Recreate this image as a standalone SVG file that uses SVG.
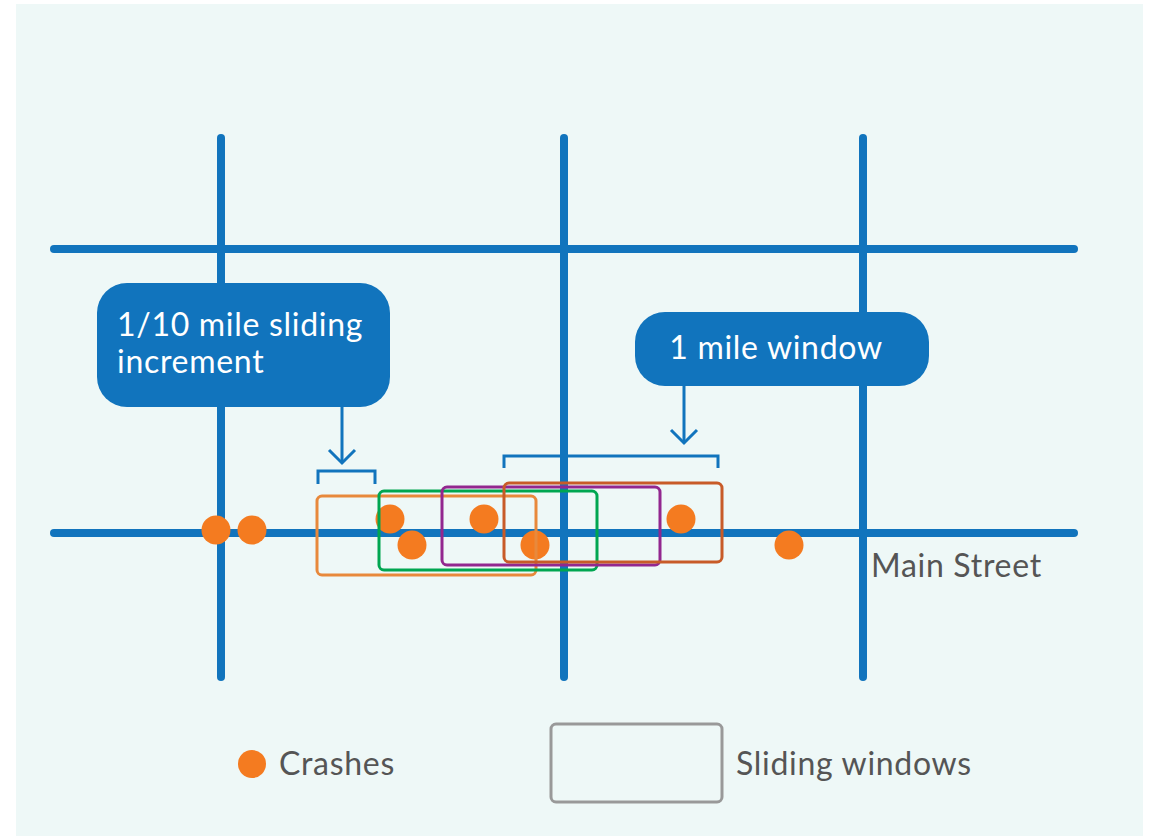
<svg xmlns="http://www.w3.org/2000/svg" width="1153" height="836" viewBox="0 0 1153 836">
<style>
.road{stroke:#1174bd;stroke-width:8;stroke-linecap:round;fill:none}
.conn{stroke:#1174bd;stroke-width:3;fill:none}
.box{fill:#1174bd}
.lbl{font-family:Lato,"Noto Sans",sans-serif;font-size:32px;letter-spacing:0.7px;fill:#ffffff}
.txt{font-family:Lato,"Noto Sans",sans-serif;font-size:32px;letter-spacing:0.7px;fill:#555555}
.crash{fill:#f47b20}
.win{fill:none;stroke-width:3}
</style>
<rect x="0" y="0" width="1153" height="836" fill="#ffffff"/>
<rect x="16" y="4" width="1127" height="832" fill="#eef8f7"/>
<g id="roads">
<line class="road" x1="221" y1="138" x2="221" y2="677"/>
<line class="road" x1="564" y1="138" x2="564" y2="677"/>
<line class="road" x1="863" y1="138" x2="863" y2="677"/>
<line class="road" x1="54" y1="249" x2="1074" y2="249"/>
<line class="road" x1="54" y1="533" x2="1074" y2="533"/>
</g>
<g id="crashes">
<circle class="crash" cx="216" cy="530" r="14.5"/>
<circle class="crash" cx="252" cy="530" r="14.5"/>
<circle class="crash" cx="390" cy="519" r="14.5"/>
<circle class="crash" cx="412" cy="545" r="14.5"/>
<circle class="crash" cx="484" cy="519" r="14.5"/>
<circle class="crash" cx="535" cy="545" r="14.5"/>
<circle class="crash" cx="681" cy="519" r="14.5"/>
<circle class="crash" cx="789" cy="545" r="14.5"/>
</g>
<g id="windows">
<rect class="win" x="317" y="496" width="219" height="79" rx="5" stroke="#e8893c"/>
<rect class="win" x="379" y="491" width="218" height="79" rx="5" stroke="#00a651"/>
<rect class="win" x="442" y="487" width="218" height="78" rx="5" stroke="#92278f"/>
<rect class="win" x="504" y="483" width="218" height="79" rx="5" stroke="#c85b28"/>
</g>
<g id="callout-increment">
<rect class="box" x="97" y="283" width="293" height="124" rx="30"/>
<text class="lbl" x="117" y="336">1/10 mile sliding</text>
<text class="lbl" x="117" y="373">increment</text>
</g>
<g id="callout-window">
<rect class="box" x="635" y="312" width="294" height="74" rx="30"/>
<text class="lbl" x="776" y="359" text-anchor="middle">1 mile window</text>
</g>
<g id="connectors">
<line class="conn" x1="342" y1="407" x2="342" y2="462"/>
<polyline class="conn" points="329,450 342,463 355,450"/>
<polyline class="conn" points="318,484 318,471 375,471 375,484"/>
<line class="conn" x1="684" y1="386" x2="684" y2="442"/>
<polyline class="conn" points="671,430 684,443 697,430"/>
<polyline class="conn" points="504,468 504,456 718,456 718,468"/>
</g>
<g id="street-label">
<text class="txt" x="871" y="577">Main Street</text>
</g>
<g id="legend">
<circle class="crash" cx="252" cy="764" r="14"/>
<text class="txt" x="279" y="775">Crashes</text>
<rect x="551" y="724" width="171" height="78" rx="5" fill="none" stroke="#999999" stroke-width="3"/>
<text class="txt" x="736" y="775">Sliding windows</text>
</g>
</svg>
